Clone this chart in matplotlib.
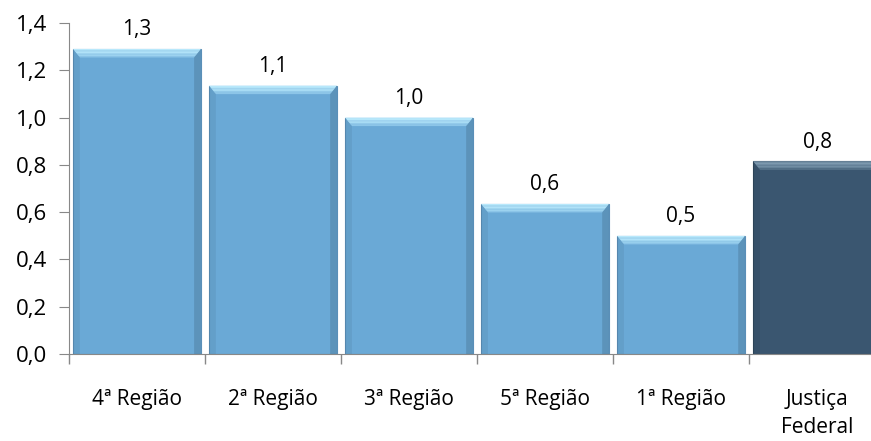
import numpy as np
import matplotlib.pyplot as plt
from matplotlib.colors import to_rgb
from matplotlib.patches import Polygon

categories = ["4ª Região", "2ª Região", "3ª Região", "5ª Região", "1ª Região", "Justiça\nFederal"]
values = [1.29, 1.135, 1.0, 0.635, 0.5, 0.815]
labels = ["1,3", "1,1", "1,0", "0,6", "0,5", "0,8"]
yticks = [0.0, 0.2, 0.4, 0.6, 0.8, 1.0, 1.2, 1.4]

plt.rcParams['font.family'] = ['Open Sans', 'DejaVu Sans']

fig = plt.figure(figsize=(8.71, 4.41), dpi=100)
ax = fig.add_axes([0.0792, 0.197, 0.937, 0.751])

light = "#6aa9d6"
dark = "#3a5670"
colors = [light] * 5 + [dark]
edges = ["#5a8fb8"] * 5 + ["#2f475c"]
tops = [("#b8e8fb", "#78b6df")] * 5 + [("#7f9bb1", "#45627b")]

x = np.arange(len(categories))
w = 0.94
ax.bar(x, values, width=w, color=colors, edgecolor=edges, linewidth=0.8, zorder=2)

# bevel look: gradient band on top, shaded sides
bx, by = 0.05, 0.036
for xi, v, (c0, c1) in zip(x, values, tops):
    x0, x1 = xi - w / 2, xi + w / 2
    n = 6
    for k in range(n):
        f0, f1 = k / n, (k + 1) / n
        m = (f0 ** 2)
        col = tuple(np.array(to_rgb(c0)) * (1 - m) + np.array(to_rgb(c1)) * m)
        poly = [(x0 + bx * f0, v - by * f0), (x1 - bx * f0, v - by * f0),
                (x1 - bx * f1, v - by * f1), (x0 + bx * f1, v - by * f1)]
        ax.add_patch(Polygon(poly, closed=True, facecolor=col, edgecolor="none", zorder=3))
    ax.add_patch(Polygon([(x0, 0), (x0, v), (x0 + bx, v - by), (x0 + bx, 0)],
                         closed=True, facecolor="#000000", alpha=0.06,
                         edgecolor="none", zorder=3))
    ax.add_patch(Polygon([(x1, 0), (x1, v), (x1 - bx, v - by), (x1 - bx, 0)],
                         closed=True, facecolor="#000000", alpha=0.13,
                         edgecolor="none", zorder=3))

for xi, v, t in zip(x, values, labels):
    ax.text(xi, v + 0.058, t, ha="center", va="baseline", fontsize=15)

ax.set_xlim(-0.5, 5.5)
ax.set_ylim(0, 1.4)
ax.set_yticks(yticks)
ax.set_yticklabels([f"{t:.1f}".replace(".", ",") for t in yticks], fontsize=16)
ax.set_xticks(np.arange(-0.5, 6, 1.0))
ax.set_xticklabels([])
ax.set_xticks(x, minor=True)
ax.set_xticklabels(categories, minor=True, fontsize=15, linespacing=1.45)
ax.tick_params(axis="x", which="minor", length=0, pad=25)
ax.tick_params(axis="x", which="major", length=7, color="#888888", width=1)
ax.tick_params(axis="y", length=7, color="#888888", pad=9)

for s in ["top", "right"]:
    ax.spines[s].set_visible(False)
ax.spines["left"].set_color("#888888")
ax.spines["bottom"].set_color("#888888")

fig.savefig("out.png", dpi=100)
